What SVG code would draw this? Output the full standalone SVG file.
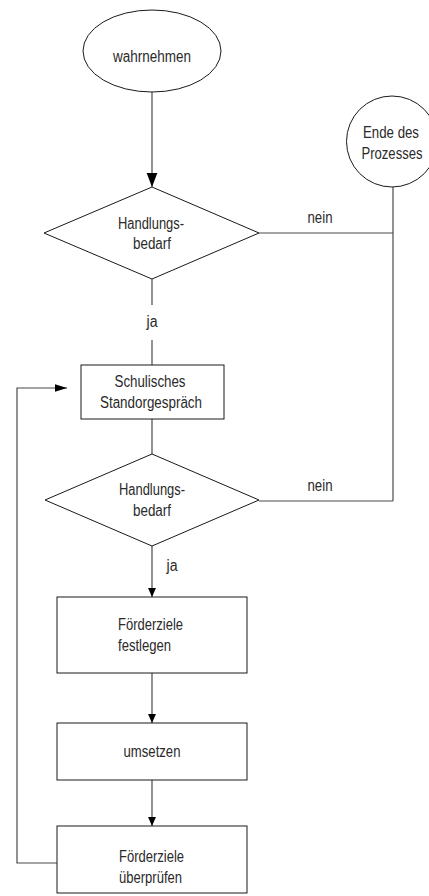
<svg xmlns="http://www.w3.org/2000/svg" width="429" height="896" viewBox="0 0 429 896">
<style>
.shape{fill:#fff;stroke:#1a1a1a;stroke-width:1}
.conn{fill:none;stroke:#4a4a4a;stroke-width:1.2}
text{font-family:"Liberation Sans Narrow","Liberation Sans",Arial,sans-serif;font-size:16px;fill:#2a2a2a;text-anchor:middle}
text.l{text-anchor:start}
</style>
<defs>
<marker id="big" markerUnits="userSpaceOnUse" markerWidth="14" markerHeight="18" refX="17" refY="6.5" orient="auto" viewBox="0 0 17 13">
<path d="M0,0 L17,6.5 L0,13 Z" fill="#000"/>
</marker>
<marker id="sm" markerUnits="userSpaceOnUse" markerWidth="9" markerHeight="8" refX="8" refY="3.5" orient="auto" viewBox="0 0 8 7">
<path d="M0,0 L8,3.5 L0,7 Z" fill="#000"/>
</marker>
<marker id="side" markerUnits="userSpaceOnUse" markerWidth="12" markerHeight="8" refX="11" refY="3.5" orient="auto" viewBox="0 0 11 7">
<path d="M0,0 L11,3.5 L0,7 Z" fill="#000"/>
</marker>
</defs>
<g id="connectors">
<line class="conn" x1="152" y1="92" x2="152" y2="187" marker-end="url(#big)"/>
<line class="conn" x1="152" y1="279" x2="152" y2="305"/>
<line class="conn" x1="152" y1="340" x2="152" y2="365"/>
<line class="conn" x1="152" y1="419" x2="152" y2="454"/>
<line class="conn" x1="152" y1="546" x2="152" y2="597" marker-end="url(#sm)"/>
<line class="conn" x1="152" y1="673" x2="152" y2="723" marker-end="url(#sm)"/>
<line class="conn" x1="152" y1="780" x2="152" y2="826" marker-end="url(#sm)"/>
<polyline class="conn" points="57,863 17,863 17,388 67,388" marker-end="url(#side)"/>
<line class="conn" x1="259" y1="233" x2="393" y2="233"/>
<line class="conn" x1="259" y1="501" x2="393" y2="501"/>
<line class="conn" x1="393" y1="187" x2="393" y2="501"/>
<text x="152" y="327" textLength="11" lengthAdjust="spacingAndGlyphs">ja</text>
<text x="172" y="571" textLength="11" lengthAdjust="spacingAndGlyphs">ja</text>
<text x="320" y="223" textLength="25" lengthAdjust="spacingAndGlyphs">nein</text>
<text x="320" y="491" textLength="25" lengthAdjust="spacingAndGlyphs">nein</text>
</g>
<g id="start">
<ellipse class="shape" cx="152" cy="51" rx="69" ry="41"/>
<text x="152" y="62" textLength="78" lengthAdjust="spacingAndGlyphs">wahrnehmen</text>
</g>
<g id="end">
<circle class="shape" cx="392" cy="141.5" r="45.5"/>
<text x="391" y="138" textLength="56" lengthAdjust="spacingAndGlyphs">Ende des</text>
<text x="392" y="159" textLength="61" lengthAdjust="spacingAndGlyphs">Prozesses</text>
</g>
<g id="decision1">
<polygon class="shape" points="152,187 259,233 152,279 44,233"/>
<text x="151" y="229" textLength="66" lengthAdjust="spacingAndGlyphs">Handlungs-</text>
<text x="152" y="249" textLength="38" lengthAdjust="spacingAndGlyphs">bedarf</text>
</g>
<g id="gespraech">
<rect class="shape" x="81" y="365" width="143" height="54"/>
<text x="150" y="387" textLength="71" lengthAdjust="spacingAndGlyphs">Schulisches</text>
<text x="151" y="408" textLength="102" lengthAdjust="spacingAndGlyphs">Standorgespräch</text>
</g>
<g id="decision2">
<polygon class="shape" points="152,454 259,500 152,546 45,500"/>
<text x="152" y="495" textLength="66" lengthAdjust="spacingAndGlyphs">Handlungs-</text>
<text x="152" y="516" textLength="38" lengthAdjust="spacingAndGlyphs">bedarf</text>
</g>
<g id="festlegen">
<rect class="shape" x="57" y="597" width="190" height="76"/>
<text class="l" x="118" y="630" textLength="65" lengthAdjust="spacingAndGlyphs">Förderziele</text>
<text class="l" x="118" y="651" textLength="53" lengthAdjust="spacingAndGlyphs">festlegen</text>
</g>
<g id="umsetzen">
<rect class="shape" x="57" y="723" width="190" height="57"/>
<text x="152" y="757" textLength="57" lengthAdjust="spacingAndGlyphs">umsetzen</text>
</g>
<g id="ueberpruefen">
<rect class="shape" x="57" y="826" width="190" height="67"/>
<text class="l" x="119" y="862" textLength="65" lengthAdjust="spacingAndGlyphs">Förderziele</text>
<text class="l" x="119" y="883" textLength="63" lengthAdjust="spacingAndGlyphs">überprüfen</text>
</g>
</svg>
